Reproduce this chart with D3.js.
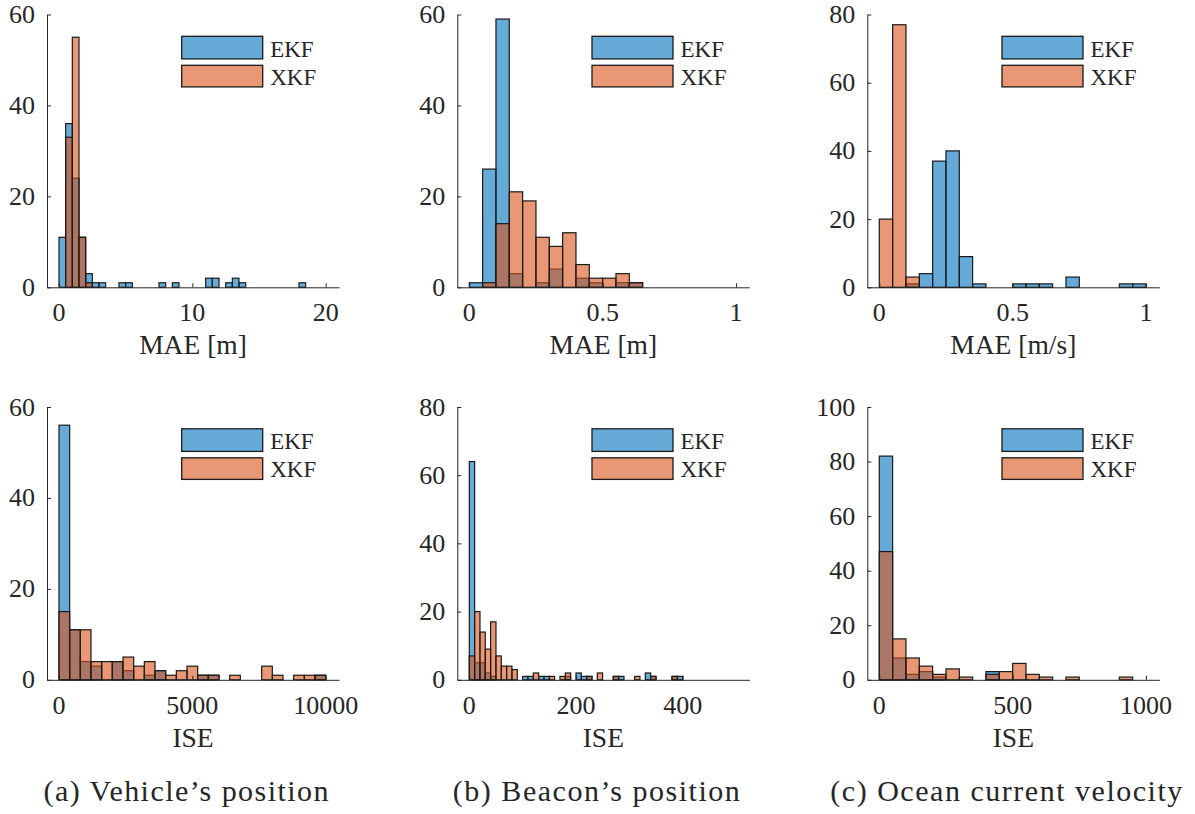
<!DOCTYPE html>
<html>
<head>
<meta charset="utf-8">
<script src="https://cdn.jsdelivr.net/npm/d3@7"></script>
</head>
<body style="margin:0">
<svg id="chart" width="1195" height="814"></svg>
<script>
// histogram counts per bin, bins start at 0 with the given width

// (a) vehicle position
const vehMaeBin = 0.5;
const vehMaeEKF = [11, 36, 24, 11, 3, 1, 1, 0, 0, 1, 1, 0, 0, 0, 0, 1, 0, 1, 0, 0, 0, 0, 2, 2, 0, 1, 2, 1, 0, 0, 0, 0, 0, 0, 0, 0, 1];
const vehMaeXKF = [0, 33, 55, 11, 1];
const vehIseBin = 400;
const vehIseEKF = [56, 11, 4, 3, 0, 4, 2, 0, 1, 2, 0, 0, 0, 1, 1, 0, 0, 0, 0, 0, 0, 0, 0, 0, 1];
const vehIseXKF = [15, 11, 11, 4, 4, 4, 5, 3, 4, 2, 1, 2, 3, 1, 1, 0, 1, 0, 0, 3, 1, 0, 1, 1, 1];

// (b) beacon position
const bcnMaeBin = 0.05;
const bcnMaeEKF = [1, 26, 59, 3, 0, 1, 4, 0, 2, 1, 0, 1, 1];
const bcnMaeXKF = [0, 1, 14, 21, 19, 11, 9, 12, 5, 2, 2, 3, 1];
const bcnIseBin = 10;
const bcnIseEKF = [64, 5, 5, 2, 1, 0, 0, 0, 0, 0, 1, 1, 0, 1, 1, 0, 0, 0, 1, 0, 2, 1, 1, 0, 0, 0, 0, 1, 1, 0, 0, 0, 0, 2, 1, 0, 0, 0, 1, 1];
const bcnIseXKF = [7, 20, 14, 9, 17, 7, 4, 4, 3, 0, 0, 0, 2, 0, 0, 1, 0, 1, 2, 0, 0, 0, 1, 0, 2, 0, 0, 1, 0, 0, 0, 1, 0, 0, 1, 0, 0, 0, 1];

// (c) ocean current velocity
const curMaeBin = 0.05;
const curMaeEKF = [0, 0, 1, 4, 37, 40, 9, 1, 0, 0, 1, 1, 1, 0, 3, 0, 0, 0, 1, 1];
const curMaeXKF = [20, 77, 3];
const curIseBin = 50;
const curIseEKF = [82, 8, 2, 3, 1, 0, 0, 0, 3];
const curIseXKF = [47, 15, 8, 5, 2, 4, 1, 0, 2, 3, 6, 2, 1, 0, 1, 0, 0, 0, 1];

const seriesNames = ["EKF", "XKF"];
const captions = ["(a) Vehicle\u2019s position", "(b) Beacon\u2019s position", "(c) Ocean current velocity"];
const fontFamilies = ["Liberation Serif", "DejaVu Serif", "serif"];

const ekfColor = "#0072BD", xkfColor = "#D95319";
const ink = "#262626";

// layout
const colX = [47, 457.3, 867.3];
const rowY = [14.5, 407];
const axW = 292, axH = 272.8;

const panels = [
  { col: 0, row: 0, bin: vehMaeBin, ekf: vehMaeEKF, xkf: vehMaeXKF, xlim: [-0.9, 21], xticks: [0, 10, 20], ymax: 60, label: "MAE [m]" },
  { col: 1, row: 0, bin: bcnMaeBin, ekf: bcnMaeEKF, xkf: bcnMaeXKF, xlim: [-0.045, 1.05], xticks: [0, 0.5, 1], ymax: 60, label: "MAE [m]" },
  { col: 2, row: 0, bin: curMaeBin, ekf: curMaeEKF, xkf: curMaeXKF, xlim: [-0.045, 1.05], xticks: [0, 0.5, 1], ymax: 80, label: "MAE [m/s]" },
  { col: 0, row: 1, bin: vehIseBin, ekf: vehIseEKF, xkf: vehIseXKF, xlim: [-450, 10500], xticks: [0, 5000, 10000], ymax: 60, label: "ISE" },
  { col: 1, row: 1, bin: bcnIseBin, ekf: bcnIseEKF, xkf: bcnIseXKF, xlim: [-22.5, 525], xticks: [0, 200, 400], ymax: 80, label: "ISE" },
  { col: 2, row: 1, bin: curIseBin, ekf: curIseEKF, xkf: curIseXKF, xlim: [-45, 1050], xticks: [0, 500, 1000], ymax: 100, label: "ISE" }
];

const svg = d3.select("#chart");

function addText(parent, str, size) {
  return parent.append("text")
    .attr("font-family", fontFamilies.join(", "))
    .attr("font-size", size)
    .attr("fill", ink)
    .text(str);
}

panels.forEach(p => {
  const g = svg.append("g")
    .attr("transform", `translate(${colX[p.col]},${rowY[p.row]})`);

  const x = d3.scaleLinear().domain(p.xlim).range([0, axW]);
  const y = d3.scaleLinear().domain([0, p.ymax]).range([axH, 0]);

  // bars: EKF first, XKF drawn on top
  [[p.ekf, ekfColor], [p.xkf, xkfColor]].forEach(([counts, color]) => {
    const bins = counts.map((c, i) => ({ x0: i * p.bin, x1: (i + 1) * p.bin, n: c }))
      .filter(d => d.n > 0);
    g.append("g")
      .selectAll("rect")
      .data(bins)
      .enter()
      .append("rect")
      .attr("x", d => x(d.x0))
      .attr("width", d => x(d.x1) - x(d.x0))
      .attr("y", d => y(d.n))
      .attr("height", d => y(0) - y(d.n))
      .attr("fill", color)
      .attr("fill-opacity", 0.6)
      .attr("stroke", "#1a1a1a")
      .attr("stroke-width", 1.2);
  });

  // axis lines and inward ticks, labels drawn as own texts
  const xAxis = g.append("g")
    .attr("transform", `translate(0,${axH})`)
    .call(d3.axisBottom(x).tickValues(p.xticks).tickFormat("")
      .tickSizeInner(-4).tickSizeOuter(0));
  const yTicks = d3.range(0, p.ymax + 1, 20);
  const yAxis = g.append("g")
    .call(d3.axisLeft(y).tickValues(yTicks).tickFormat("")
      .tickSizeInner(-4).tickSizeOuter(0));
  [xAxis, yAxis].forEach(a => {
    a.selectAll("path, line").attr("stroke", ink).attr("stroke-width", 1);
    a.selectAll("text").remove();
  });

  p.xticks.forEach(t => {
    addText(g, String(t), 26)
      .attr("x", x(t))
      .attr("y", axH + 34)
      .attr("text-anchor", "middle");
  });
  yTicks.forEach(t => {
    addText(g, String(t), 26)
      .attr("x", -12)
      .attr("y", y(t) + 8.5)
      .attr("text-anchor", "end");
  });

  addText(g, p.label, 27.5)
    .attr("x", axW / 2)
    .attr("y", axH + 67)
    .attr("text-anchor", "middle");

  // legend
  const leg = g.append("g").attr("transform", "translate(134.7,0)");
  const legRows = [{ y: 21.8, h: 22.6, color: ekfColor }, { y: 50.8, h: 21.6, color: xkfColor }];
  legRows.forEach((r, i) => {
    leg.append("rect")
      .attr("x", 0).attr("y", r.y)
      .attr("width", 81).attr("height", r.h)
      .attr("fill", r.color).attr("fill-opacity", 0.6)
      .attr("stroke", "#1a1a1a").attr("stroke-width", 1.3);
    addText(leg, seriesNames[i], 23)
      .attr("x", 88.5)
      .attr("y", r.y + r.h - 2.3);
  });
});

// sub-figure captions
const capLen = [285, 287, 352];
captions.forEach((c, i) => {
  addText(svg, c, 30)
    .attr("x", colX[i] + axW / 2 - 7)
    .attr("y", 801)
    .attr("text-anchor", "middle")
    .attr("textLength", capLen[i])
    .attr("lengthAdjust", "spacing");
});
</script>
</body>
</html>
